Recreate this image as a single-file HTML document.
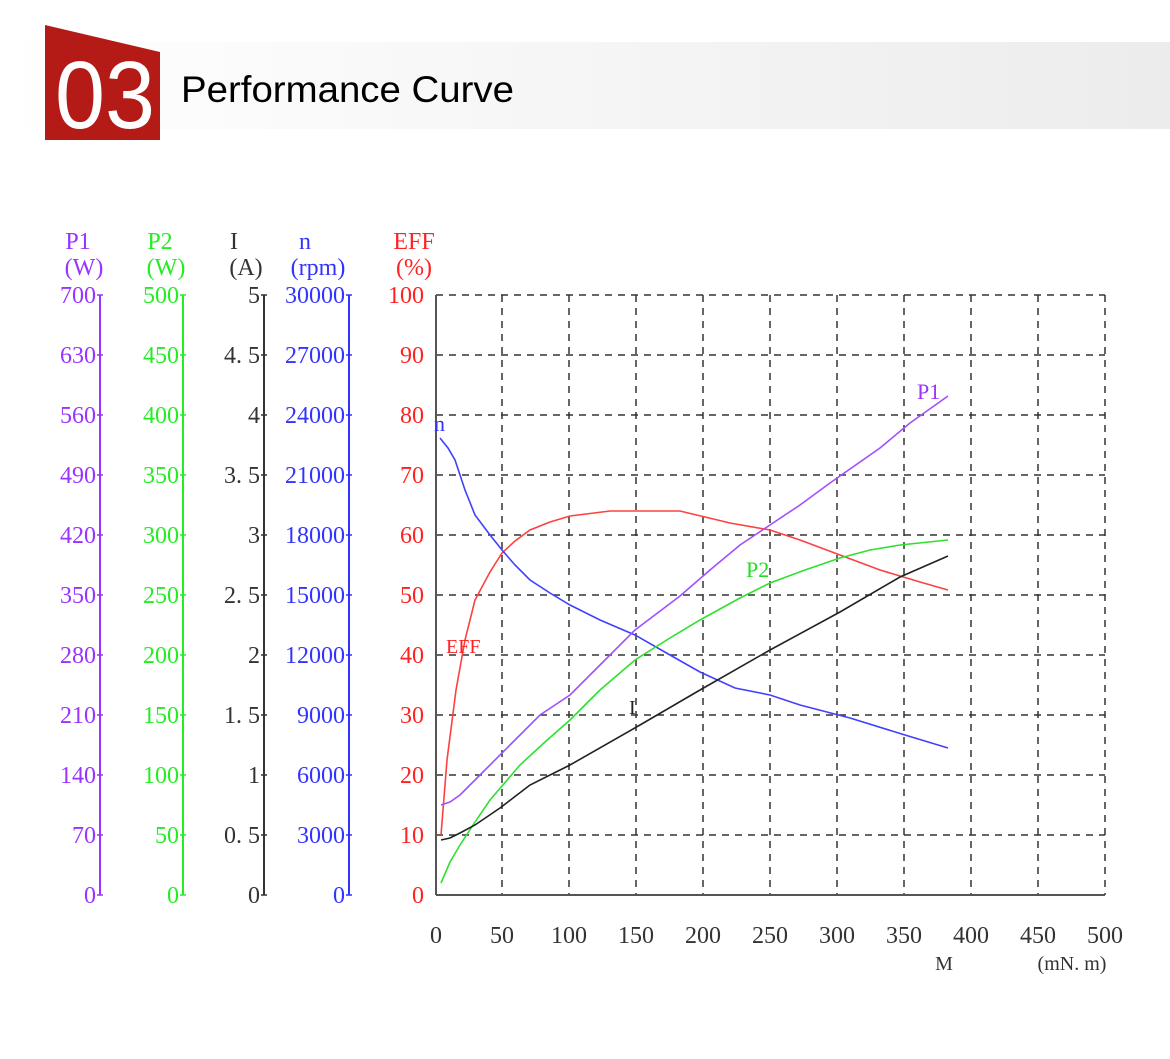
<!DOCTYPE html>
<html><head><meta charset="utf-8"><style>
body{margin:0;background:#fff;width:1170px;height:1054px;overflow:hidden;font-family:"Liberation Sans",sans-serif}
</style></head><body>
<svg width="1170" height="1054" xmlns="http://www.w3.org/2000/svg">
<defs><linearGradient id="g" x1="0" x2="1"><stop offset="0" stop-color="#fff"/><stop offset="1" stop-color="#ececec"/></linearGradient></defs>
<rect x="0" y="42" width="1170" height="87" fill="url(#g)"/>
<polygon points="45,25 160,52 160,140 45,140" fill="#b41b16"/>
<text x="105" y="128" font-size="96" fill="#fff" text-anchor="middle" font-family="Liberation Sans" textLength="100" lengthAdjust="spacingAndGlyphs">03</text>
<text x="181" y="102" font-size="37" fill="#000" textLength="333" lengthAdjust="spacingAndGlyphs">Performance Curve</text>
<g font-family="Liberation Serif,serif" font-size="24">
<g text-anchor="middle">
<text x="78" y="249" fill="#9933ff">P1</text><text x="84" y="275" fill="#9933ff">(W)</text>
<text x="160" y="249" fill="#22ee22">P2</text><text x="166" y="275" fill="#22ee22">(W)</text>
<text x="234" y="249" fill="#333">I</text><text x="246" y="275" fill="#333">(A)</text>
<text x="305" y="249" fill="#3333ff">n</text><text x="318" y="275" fill="#3333ff">(rpm)</text>
<text x="414" y="249" fill="#ff2222">EFF</text><text x="414" y="275" fill="#ff2222">(%)</text>
</g>
<line x1="100" y1="295" x2="100" y2="895" stroke="#9933ff" stroke-width="2"/>
<line x1="183" y1="295" x2="183" y2="895" stroke="#22ee22" stroke-width="2"/>
<line x1="264" y1="295" x2="264" y2="895" stroke="#333" stroke-width="2"/>
<line x1="349" y1="295" x2="349" y2="895" stroke="#3333ff" stroke-width="2"/>
<g stroke-width="1.5">
<path stroke="#9933ff" d="M97 295h6M97 355h6M97 415h6M97 475h6M97 535h6M97 595h6M97 655h6M97 715h6M97 775h6M97 835h6M97 895h6"/>
<path stroke="#22ee22" d="M180 295h6M180 355h6M180 415h6M180 475h6M180 535h6M180 595h6M180 655h6M180 715h6M180 775h6M180 835h6M180 895h6"/>
<path stroke="#333" d="M261 295h6M261 355h6M261 415h6M261 475h6M261 535h6M261 595h6M261 655h6M261 715h6M261 775h6M261 835h6M261 895h6"/>
<path stroke="#3333ff" d="M346 295h6M346 355h6M346 415h6M346 475h6M346 535h6M346 595h6M346 655h6M346 715h6M346 775h6M346 835h6M346 895h6"/>
</g>
<g text-anchor="end">
<text x="96" y="303" fill="#9933ff">700</text><text x="96" y="363" fill="#9933ff">630</text><text x="96" y="423" fill="#9933ff">560</text><text x="96" y="483" fill="#9933ff">490</text><text x="96" y="543" fill="#9933ff">420</text><text x="96" y="603" fill="#9933ff">350</text><text x="96" y="663" fill="#9933ff">280</text><text x="96" y="723" fill="#9933ff">210</text><text x="96" y="783" fill="#9933ff">140</text><text x="96" y="843" fill="#9933ff">70</text><text x="96" y="903" fill="#9933ff">0</text>
<text x="179" y="303" fill="#22ee22">500</text><text x="179" y="363" fill="#22ee22">450</text><text x="179" y="423" fill="#22ee22">400</text><text x="179" y="483" fill="#22ee22">350</text><text x="179" y="543" fill="#22ee22">300</text><text x="179" y="603" fill="#22ee22">250</text><text x="179" y="663" fill="#22ee22">200</text><text x="179" y="723" fill="#22ee22">150</text><text x="179" y="783" fill="#22ee22">100</text><text x="179" y="843" fill="#22ee22">50</text><text x="179" y="903" fill="#22ee22">0</text>
<text x="260" y="303" fill="#333">5</text><text x="260" y="363" fill="#333">4. 5</text><text x="260" y="423" fill="#333">4</text><text x="260" y="483" fill="#333">3. 5</text><text x="260" y="543" fill="#333">3</text><text x="260" y="603" fill="#333">2. 5</text><text x="260" y="663" fill="#333">2</text><text x="260" y="723" fill="#333">1. 5</text><text x="260" y="783" fill="#333">1</text><text x="260" y="843" fill="#333">0. 5</text><text x="260" y="903" fill="#333">0</text>
<text x="345" y="303" fill="#3333ff">30000</text><text x="345" y="363" fill="#3333ff">27000</text><text x="345" y="423" fill="#3333ff">24000</text><text x="345" y="483" fill="#3333ff">21000</text><text x="345" y="543" fill="#3333ff">18000</text><text x="345" y="603" fill="#3333ff">15000</text><text x="345" y="663" fill="#3333ff">12000</text><text x="345" y="723" fill="#3333ff">9000</text><text x="345" y="783" fill="#3333ff">6000</text><text x="345" y="843" fill="#3333ff">3000</text><text x="345" y="903" fill="#3333ff">0</text>
<text x="424" y="303" fill="#ff2222">100</text><text x="424" y="363" fill="#ff2222">90</text><text x="424" y="423" fill="#ff2222">80</text><text x="424" y="483" fill="#ff2222">70</text><text x="424" y="543" fill="#ff2222">60</text><text x="424" y="603" fill="#ff2222">50</text><text x="424" y="663" fill="#ff2222">40</text><text x="424" y="723" fill="#ff2222">30</text><text x="424" y="783" fill="#ff2222">20</text><text x="424" y="843" fill="#ff2222">10</text><text x="424" y="903" fill="#ff2222">0</text>
</g>
<g stroke="#333" stroke-width="1.5" stroke-dasharray="7,6">
<line x1="436" y1="295" x2="1105" y2="295"/><line x1="436" y1="355" x2="1105" y2="355"/><line x1="436" y1="415" x2="1105" y2="415"/><line x1="436" y1="475" x2="1105" y2="475"/><line x1="436" y1="535" x2="1105" y2="535"/><line x1="436" y1="595" x2="1105" y2="595"/><line x1="436" y1="655" x2="1105" y2="655"/><line x1="436" y1="715" x2="1105" y2="715"/><line x1="436" y1="775" x2="1105" y2="775"/><line x1="436" y1="835" x2="1105" y2="835"/>
<line x1="502" y1="295" x2="502" y2="895"/><line x1="569" y1="295" x2="569" y2="895"/><line x1="636" y1="295" x2="636" y2="895"/><line x1="703" y1="295" x2="703" y2="895"/><line x1="770" y1="295" x2="770" y2="895"/><line x1="837" y1="295" x2="837" y2="895"/><line x1="904" y1="295" x2="904" y2="895"/><line x1="971" y1="295" x2="971" y2="895"/><line x1="1038" y1="295" x2="1038" y2="895"/><line x1="1105" y1="295" x2="1105" y2="895"/>
</g>
<line x1="436" y1="295" x2="436" y2="895" stroke="#555" stroke-width="2"/>
<line x1="436" y1="895" x2="1105" y2="895" stroke="#555" stroke-width="2"/>
<g text-anchor="middle" fill="#333">
<text x="436" y="943">0</text><text x="502" y="943">50</text><text x="569" y="943">100</text><text x="636" y="943">150</text><text x="703" y="943">200</text><text x="770" y="943">250</text><text x="837" y="943">300</text><text x="904" y="943">350</text><text x="971" y="943">400</text><text x="1038" y="943">450</text><text x="1105" y="943">500</text>
<text x="944" y="970" font-size="20">M</text><text x="1072" y="970" font-size="20">(mN. m)</text>
</g>
<g fill="none" stroke-width="1.6">
<polyline stroke="#ff4040" points="441,835 447,760 456,690 465,640 475,600 490,572 502,553 515,541 530,530 550,522 570,516 610,511 680,511 705,517 730,523 770,530 800,540 840,555 880,570 920,582 948,590"/>
<polyline stroke="#4040ff" points="440,438 448,448 455,460 465,490 475,515 490,535 502,550 515,565 530,580 550,593 570,605 600,620 635,635 670,655 700,672 735,688 770,695 800,705 850,718 905,735 948,748"/>
<polyline stroke="#a050ff" points="441,805 450,802 460,795 480,775 510,745 540,715 570,695 600,665 635,630 680,596 710,570 740,545 770,525 800,505 830,483 880,448 910,423 948,396"/>
<polyline stroke="#30e030" points="441,883 450,862 460,845 475,822 490,800 520,765 545,742 570,720 600,690 635,660 670,638 700,620 740,598 770,583 805,570 840,558 870,550 900,545 948,540"/>
<polyline stroke="#222" points="441,840 450,838 460,833 475,825 500,808 530,785 570,765 640,725 700,690 770,650 840,612 900,577 948,556"/>
</g>
<text x="434" y="431" fill="#3333ff" font-size="22">n</text>
<text x="917" y="399" fill="#9933ff" font-size="22">P1</text>
<text x="746" y="577" fill="#22dd22" font-size="22">P2</text>
<text x="446" y="653" fill="#ff2222" font-size="20">EFF</text>
<text x="629" y="714" fill="#222" font-size="20">I</text>
</g>
</svg>
</body></html>
